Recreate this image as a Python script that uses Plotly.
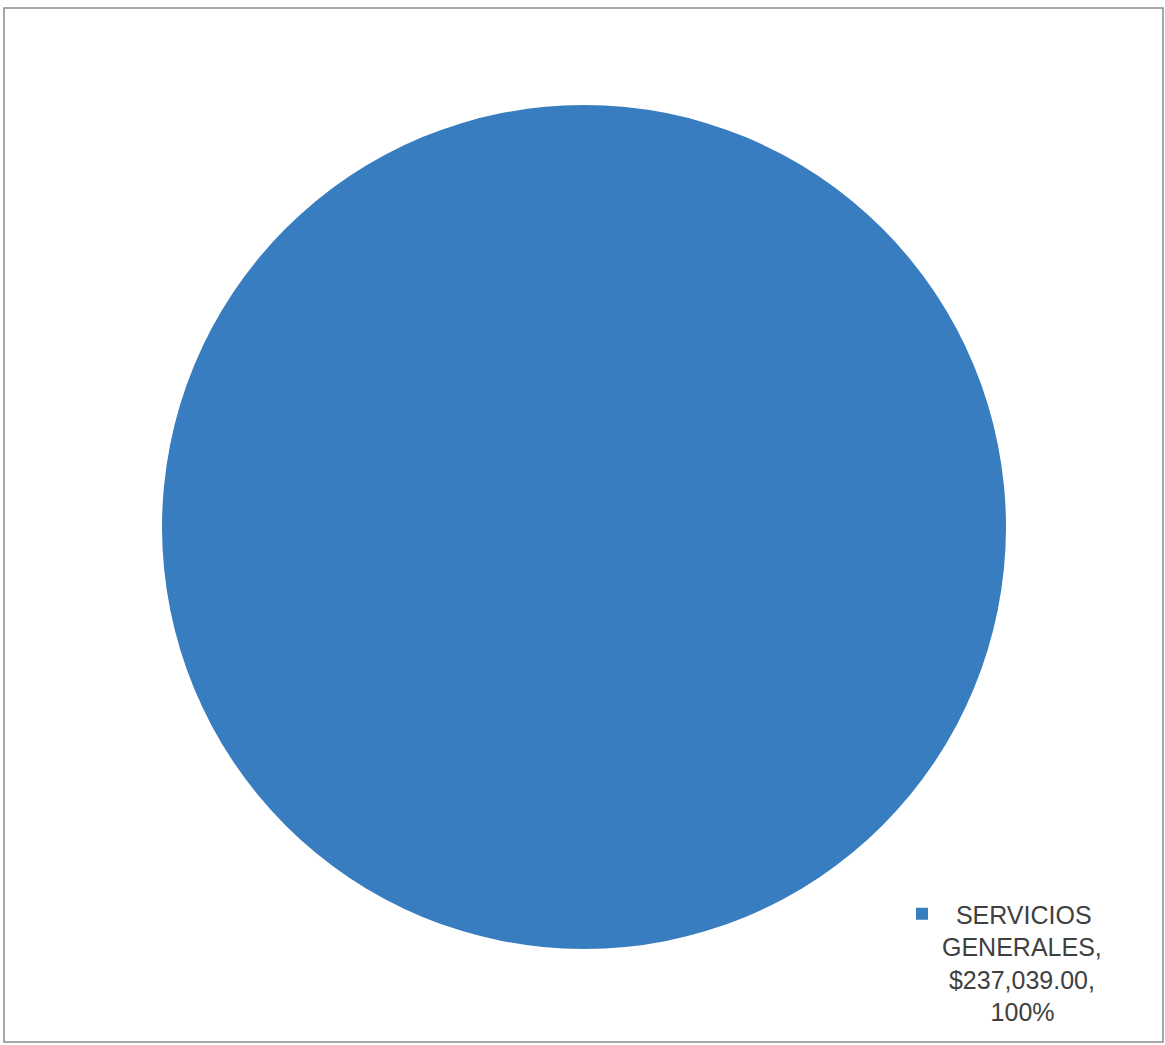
import plotly.graph_objects as go

labels = ["SERVICIOS GENERALES"]
values = [237039.00]
percents = ["100%"]
colors = ["#377dc0"]

W, H = 1165, 1045
NB = "\u00a0"

def legend_name(label, value, pct):
    # centred multi-line label like the original legend
    return (NB * 2 + "SERVICIOS" + "<br>" + "GENERALES," + "<br>" + NB
            + "${:,.2f},".format(value) + "<br>" + NB * 7 + pct)

fig = go.Figure()
fig.add_trace(go.Pie(
    labels=[legend_name(l, v, p) for l, v, p in zip(labels, values, percents)],
    values=values,
    marker=dict(colors=colors, line=dict(width=0)),
    textinfo="none",
    sort=False,
    showlegend=True,
    domain=dict(x=[162 / W, 1006 / W], y=[92 / H, 944 / H]),
))

fig.add_shape(type="rect", xref="paper", yref="paper",
              x0=4 / W, x1=1163 / W, y0=3 / H, y1=1037 / H,
              line=dict(color="#8a8a8a", width=1.5), fillcolor="rgba(0,0,0,0)")

fig.update_layout(
    width=W, height=H,
    margin=dict(l=0, r=0, t=0, b=0),
    paper_bgcolor="white",
    plot_bgcolor="white",
    legend=dict(
        x=902 / W, y=(H - 891) / H, xanchor="left", yanchor="top",
        font=dict(family="Liberation Sans, Arial, sans-serif", size=25, color="#404040"),
        valign="top", bgcolor="rgba(0,0,0,0)",
    ),
)

fig.write_html("out.html",
               config={"displayModeBar": False},
               post_script="document.body.style.margin='0';document.body.style.overflow='hidden';")
